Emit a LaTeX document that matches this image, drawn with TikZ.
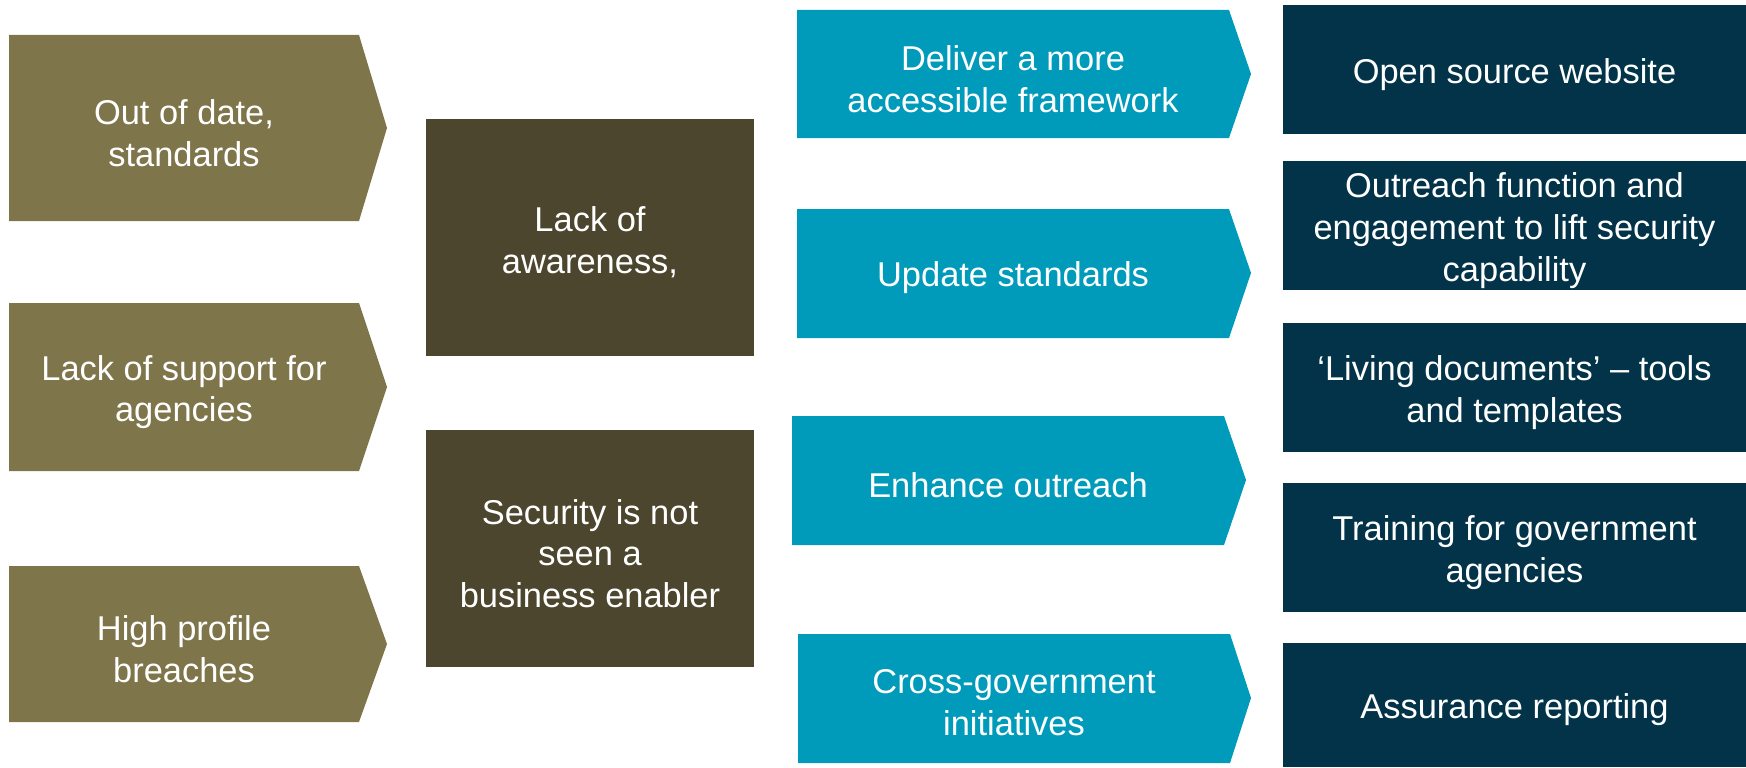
\documentclass[tikz,border=0pt]{standalone}
\usepackage{fontspec}
\setmainfont{Liberation Sans}
\usepackage{tikz}
\usetikzlibrary{calc}

\definecolor{causeolive}{HTML}{7F754B}
\definecolor{issuebrown}{HTML}{4B462D}
\definecolor{actioncyan}{HTML}{009BBB}
\definecolor{outnavy}{HTML}{023348}

\tikzset{
    txt/.style={text=white, align=center, yshift=-0.1cm, font=\fontsize{19.6}{23.8}\selectfont},
}

\begin{document}
\begin{tikzpicture}[x=0.02cm, y=-0.02cm]
        \useasboundingbox (0,0) rectangle (1746,767);

        % causes
        \fill [causeolive] (9,35) -- (359,35) -- (387,128) -- (359,221) -- (9,221) -- cycle;
        \node [txt] (outdated) at (184,128) {Out of date,\\standards};
        \fill [causeolive] (9,303) -- (359,303) -- (387,387) -- (359,471) -- (9,471) -- cycle;
        \node [txt] (nosupport) at (184,387) {Lack of support for\\agencies};
        \fill [causeolive] (9,566) -- (359,566) -- (387,644) -- (359,722) -- (9,722) -- cycle;
        \node [txt] (breaches) at (184,644) {High profile\\breaches};

        % issues
        \fill [issuebrown] (426,119) rectangle (754,356) node [pos=.5, txt] (awareness) {Lack of\\awareness,};
        \fill [issuebrown] (426,430) rectangle (754,667) node [pos=.5, txt] (enabler) {Security is not\\seen a\\business enabler};

        % actions
        \fill [actioncyan] (797,10) -- (1229,10) -- (1251,74) -- (1229,138) -- (797,138) -- cycle;
        \node [txt] (deliver) at (1013,74) {Deliver a more\\accessible framework};
        \fill [actioncyan] (797,209) -- (1229,209) -- (1251,273) -- (1229,338) -- (797,338) -- cycle;
        \node [txt] (update) at (1013,273) {Update standards};
        \fill [actioncyan] (792,416) -- (1224,416) -- (1246,480) -- (1224,545) -- (792,545) -- cycle;
        \node [txt] (enhance) at (1008,480) {Enhance outreach};
        \fill [actioncyan] (798,634) -- (1230,634) -- (1251,698) -- (1230,763) -- (798,763) -- cycle;
        \node [txt] (crossgov) at (1014,698) {Cross-government\\initiatives};

        % outputs
        \fill [outnavy] (1283,5) rectangle (1746,134) node [pos=.5, txt] (website) {Open source website};
        \fill [outnavy] (1283,161) rectangle (1746,290) node [pos=.5, txt] (outreach) {Outreach function and\\engagement to lift security\\capability};
        \fill [outnavy] (1283,323) rectangle (1746,452) node [pos=.5, txt] (livingdocs) {‘Living documents’ – tools\\and templates};
        \fill [outnavy] (1283,483) rectangle (1746,612) node [pos=.5, txt] (training) {Training for government\\agencies};
        \fill [outnavy] (1283,643) rectangle (1746,767) node [pos=.5, txt] (assurance) {Assurance reporting};
    \end{tikzpicture}
\end{document}
